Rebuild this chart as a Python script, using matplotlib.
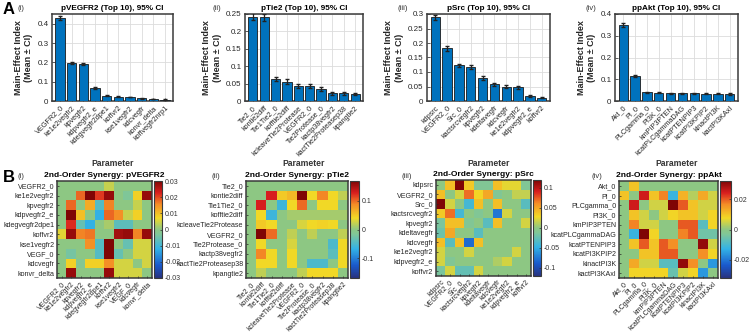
import numpy as np
import matplotlib
matplotlib.use("Agg")
import matplotlib.pyplot as plt
from matplotlib.colors import LinearSegmentedColormap

plt.rcParams['font.family'] = ['Liberation Sans', 'DejaVu Sans']

# ---- main-effect data (top 10) ----
vegfr_params = ["VEGFR2_0", "ke1e2vegfr2", "kpvegfr2", "kdpvegfr2_e", "kdegvegfr2dpe1",
                "koffvr2", "kse1vegfr2", "kdcvegfr", "konvr_delta", "koffvegfr2nrp1"]
vegfr_mean = [0.430, 0.198, 0.190, 0.068, 0.028, 0.022, 0.021, 0.013, 0.010, 0.007]
vegfr_ci = [0.010, 0.005, 0.006, 0.004, 0.003, 0.002, 0.002, 0.002, 0.001, 0.001]

tie2_params = ["Tie2_0", "kontie2diff", "Tie1Tie2_0", "kofftie2diff", "kcleaveTie2Protease",
               "VEGFR2_0", "Tie2Protease_0", "kactp38vegfr2", "kactTie2Proteasep38", "kpangtie2"]
tie2_mean = [0.242, 0.240, 0.063, 0.056, 0.044, 0.043, 0.035, 0.022, 0.022, 0.020]
tie2_ci = [0.010, 0.010, 0.006, 0.006, 0.006, 0.006, 0.005, 0.005, 0.005, 0.004]

src_params = ["kdpsrc", "VEGFR2_0", "Src_0", "kactsrcvegfr2", "kpvegfr2",
              "kdeltavegfr", "kdcvegfr", "ke1e2vegfr2", "kdpvegfr2_e", "koffvr2"]
src_mean = [0.288, 0.182, 0.123, 0.118, 0.079, 0.057, 0.050, 0.047, 0.016, 0.012]
src_ci = [0.008, 0.008, 0.006, 0.006, 0.006, 0.005, 0.005, 0.005, 0.003, 0.003]

akt_params = ["Akt_0", "PI_0", "PLCgamma_0", "PI3K_0", "kmPIP3PTEN",
              "kcatPLCgammaDAG", "kcatPTENPIP3", "kcatPI3KPIP2", "kinactPI3K", "kactPI3KAxl"]
akt_mean = [0.350, 0.115, 0.040, 0.038, 0.036, 0.036, 0.035, 0.034, 0.033, 0.032]
akt_ci = [0.008, 0.005, 0.003, 0.003, 0.003, 0.003, 0.003, 0.003, 0.003, 0.003]

# ---- second-order synergy matrices ----
vegfr_syn_params = ["VEGFR2_0", "ke1e2vegfr2", "kpvegfr2", "kdpvegfr2_e", "kdegvegfr2dpe1",
                    "koffvr2", "kse1vegfr2", "VEGF_0", "kdcvegfr", "konvr_delta"]
vegfr_syn = [
    [0, 0, 0, 0, 0, 0.004, 0, 0, 0, 0],
    [0, 0, 0.018, 0.030, 0.021, 0.028, 0, -0.003, 0.008, 0.028],
    [0, 0.018, 0, 0.012, -0.008, 0.016, 0, 0, 0.004, 0],
    [0, 0.030, 0.010, 0, -0.012, 0.018, 0.015, 0.004, 0.008, 0],
    [0, 0.022, -0.006, -0.012, 0, 0.002, -0.007, -0.007, 0, 0],
    [0.006, 0.028, 0.016, 0.017, 0, 0, 0.027, 0.028, 0.016, 0.028],
    [0, 0, 0, 0.015, -0.008, 0.030, 0, -0.006, 0.005, 0.005],
    [0, -0.004, 0, 0, -0.008, 0.030, -0.006, 0, 0.005, 0.005],
    [0, 0.008, -0.002, 0.008, 0.008, 0.015, 0.005, 0.005, 0, 0.005],
    [0, 0.028, 0, 0, 0, 0.028, 0.005, 0.005, 0.005, 0],
]
tie2_syn = [
    [0, 0, 0, 0, 0, 0, 0, 0, 0, 0],
    [0, 0, 0.13, 0.05, 0.06, 0.17, 0.04, 0.09, 0.04, 0.02],
    [0, 0.13, 0, -0.06, 0.04, 0.10, 0, 0.04, 0.04, 0],
    [0, 0.04, -0.06, 0, 0.01, 0.01, 0.01, 0.01, 0.01, 0.01],
    [0, 0.05, 0.04, 0, 0, 0.03, 0.04, 0.045, 0.04, 0],
    [0, 0.17, 0.10, 0, 0.02, 0, 0.02, 0, 0, 0.02],
    [0, 0.04, 0, 0, 0.03, 0, 0, 0, -0.05, 0.04],
    [0, 0.09, 0.04, 0, 0.04, 0, 0, 0, -0.04, 0.04],
    [0, 0.04, 0.04, 0, 0.04, 0, -0.05, -0.05, 0, 0.04],
    [0, 0.02, 0, 0, 0, 0.02, 0.04, 0.04, 0.04, 0],
]
src_syn = [
    [0, 0.04, 0.12, 0.035, -0.01, -0.01, 0.04, 0.025, 0.025, -0.01],
    [0.04, 0, 0.02, 0.07, 0.03, 0.05, -0.01, 0, 0.015, 0.015],
    [0.12, 0.02, 0, -0.04, 0.04, 0, 0.04, 0, 0, -0.03],
    [0.035, 0.07, -0.04, 0, -0.01, 0, -0.075, 0.02, 0, 0],
    [-0.015, 0.04, 0.04, -0.01, 0, -0.03, 0.04, 0, 0, 0.02],
    [-0.02, 0.05, 0, 0, -0.03, 0, 0, 0, 0, 0],
    [0.04, -0.03, 0.04, -0.08, 0.04, 0, 0, 0, 0, 0],
    [0.02, 0, 0, 0.02, 0, 0, 0, 0, 0.02, 0],
    [0.02, -0.01, 0, 0, 0, 0, 0.01, 0.02, 0, 0],
    [-0.015, 0.02, -0.025, -0.025, 0.02, 0, 0, 0, 0, 0],
]
akt_syn = [
    [0, 0.010, 0, 0, 0, 0, 0, 0, 0, 0],
    [0.010, 0, 0.025, 0.010, 0.017, -0.012, 0.012, 0.003, 0.013, 0.005],
    [0, 0.025, 0, 0.005, 0.005, 0.032, 0.020, 0.010, 0.005, 0.005],
    [0, 0.010, 0.005, 0, 0.005, 0.008, 0.010, 0.010, 0.005, 0.008],
    [0, 0.017, 0.005, 0.005, 0, 0, 0.020, 0.020, -0.008, 0.008],
    [0, -0.012, 0.032, 0.008, 0, 0, 0.017, 0.020, -0.005, -0.005],
    [0, 0.010, 0.020, 0.010, 0.020, 0.016, 0, 0, 0.030, 0.005],
    [0, 0, 0.010, 0.010, 0.020, 0.020, 0, 0, 0.016, 0.008],
    [0, 0.013, 0.005, 0.005, -0.008, -0.008, 0.030, 0.016, 0, -0.016],
    [0, 0.008, 0.008, 0.008, 0.008, -0.006, 0.005, 0.008, -0.016, 0],
]

W, H = 750, 334
fig = plt.figure(figsize=(7.5, 3.34), dpi=100)


def rect(l, t, r, b):
    return [l / W, 1 - b / H, (r - l) / W, (b - t) / H]


bar_blue = (0.0, 0.447, 0.741)
edge = "#3a3a3a"
txt = "#262626"

bar_panels = [
    (vegfr_params, vegfr_mean, vegfr_ci, "pVEGFR2", (52, 14, 173, 101), 0.45, np.arange(0, 0.41, 0.1), "(i)", 18),
    (tie2_params, tie2_mean, tie2_ci, "pTie2", (245, 14, 363, 101), 0.25, np.arange(0, 0.251, 0.05), "(ii)", 213),
    (src_params, src_mean, src_ci, "pSrc", (427, 14, 550, 101), 0.30, np.arange(0, 0.31, 0.05), "(iii)", 397),
    (akt_params, akt_mean, akt_ci, "ppAkt", (615, 14, 738, 101), 0.40, np.arange(0, 0.41, 0.1), "(iv)", 585),
]

for names, mean, ci, out, box, ymax, ticks, tag, tagx in bar_panels:
    ax = fig.add_axes(rect(*box))
    x = np.arange(len(names))
    ax.bar(x, mean, width=0.8, color=bar_blue, edgecolor="#1a1a1a", linewidth=0.6, zorder=3)
    ax.errorbar(x, mean, yerr=ci, fmt="none", ecolor="#222222", elinewidth=0.9, capsize=1.2, zorder=4)
    ax.set_xlim(-0.7, len(names) - 0.3)
    ax.set_ylim(0, ymax)
    ax.set_yticks(ticks)
    ax.set_yticklabels([("%g" % t) for t in ticks], fontsize=5.8)
    ax.set_xticks(x)
    ax.set_xticklabels(names, rotation=45, ha="right", rotation_mode="anchor", fontsize=5.2)
    ax.grid(True, color="#dcdcdc", linewidth=0.6, zorder=0)
    ax.tick_params(direction="in", length=2, width=0.5, pad=2.5, colors=txt)
    for s in ax.spines.values():
        s.set_linewidth(1.1)
        s.set_color(edge)
    ax.set_title(out + " (Top 10), 95% CI", fontsize=5.9, fontweight="bold", pad=3)
    ax.set_ylabel("Main-Effect Index\n(Mean \u00b1 CI)", fontsize=6.5, fontweight="bold", labelpad=3, color=txt)
    fig.text(tagx / W, 1 - 8 / H, tag, fontsize=5.5, color="#333333", va="center")
    cx = (box[0] + box[2]) / 2
    fig.text(cx / W, 1 - 164 / H, "Parameter", fontsize=6.2, fontweight="bold", ha="center", va="center", color="#333333")

fig.text(3 / W, 1 - 10 / H, "A", fontsize=12, fontweight="bold", va="center")
fig.text(3 / W, 1 - 177 / H, "B", fontsize=12, fontweight="bold", va="center")

syn_cmap = LinearSegmentedColormap.from_list("syn", [
    (0.00, (0.16, 0.20, 0.50)),
    (0.13, (0.10, 0.35, 0.80)),
    (0.30, (0.20, 0.70, 0.90)),
    (0.45, (0.50, 0.78, 0.60)),
    (0.50, (0.55, 0.78, 0.52)),
    (0.62, (0.95, 0.85, 0.15)),
    (0.76, (0.96, 0.55, 0.15)),
    (0.88, (0.85, 0.12, 0.12)),
    (1.00, (0.50, 0.02, 0.02)),
])

heat_panels = [
    (vegfr_syn_params, vegfr_syn, "pVEGFR2", (57, 181, 152, 278), 8, 0.03,
     [-0.03, -0.02, -0.01, 0, 0.01, 0.02, 0.03], "(i)", 17),
    (tie2_params, tie2_syn, "pTie2", (246, 181, 348, 278), 9, 0.17, [-0.1, 0, 0.1], "(ii)", 212),
    (src_params, src_syn, "pSrc", (436, 180, 531, 276), 8, 0.12, [-0.1, -0.05, 0, 0.05, 0.1], "(iii)", 402),
    (akt_params, akt_syn, "ppAkt", (619, 181, 718, 278), 11, 0.032, [-0.02, 0, 0.02], "(iv)", 592),
]

for names, mat, out, box, cbw, vmax, cticks, tag, tagx in heat_panels:
    l, t, r, b = box
    ax = fig.add_axes(rect(l, t, r, b))
    im = ax.imshow(np.array(mat), cmap=syn_cmap, vmin=-vmax, vmax=vmax, aspect="auto")
    ax.set_xticks(np.arange(10))
    ax.set_yticks(np.arange(10))
    ax.set_yticklabels(names, fontsize=5.1)
    ax.set_xticklabels(names, rotation=45, ha="right", rotation_mode="anchor", fontsize=5.0)
    ax.tick_params(direction="in", length=1.5, width=0.5, pad=2, colors=txt)
    for s in ax.spines.values():
        s.set_linewidth(1.1)
        s.set_color(edge)
    ax.set_title("2nd-Order Synergy: " + out, fontsize=6.0, fontweight="bold", pad=3)
    cax = fig.add_axes(rect(r + 2, t, r + 2 + cbw, b))
    cb = fig.colorbar(im, cax=cax, ticks=cticks)
    cb.ax.set_yticklabels([("%g" % v) for v in cticks], fontsize=5.0)
    cb.ax.tick_params(direction="in", length=1.5, width=0.5, pad=2, colors="#333333")
    cb.outline.set_linewidth(0.8)
    cb.outline.set_edgecolor(edge)
    fig.text(tagx / W, 1 - 176 / H, tag, fontsize=5.5, color="#333333", va="center")

fig.savefig("out.png", dpi=100)
